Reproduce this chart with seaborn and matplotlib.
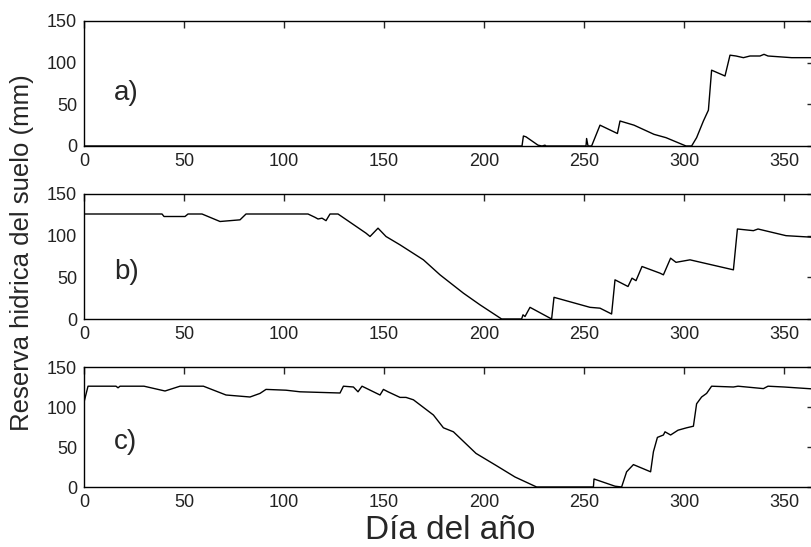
import pandas as pd
import matplotlib
matplotlib.use("Agg")
import matplotlib.pyplot as plt
import seaborn as sns

# -----------------------------
# DATA
# -----------------------------
day_a = [0, 219, 219.7, 221, 227, 229, 230.5, 231, 251, 251.3, 252, 253.8, 258, 266.7,
         268, 275, 285, 291, 301, 303.8, 306.3, 309.7, 312.2, 313.8, 320.5, 323, 326,
         329.7, 333, 338, 340, 342, 353.8, 365]
res_a = [0, 0, 12, 11, 1, 0, 1, 0, 0, 9, 0, 0, 25, 15,
         30, 25, 14, 10, 0, 0, 10, 30, 43, 91, 84, 109, 108,
         106, 108, 108, 110, 108, 106, 106]

day_b = [0, 39, 40, 50.5, 52, 59, 68, 78, 81, 112, 115.5, 117, 119, 121, 123, 127,
         141, 143, 147, 151, 158, 169.7, 178, 189.7, 198, 208.8, 218.8, 219.5, 220.5,
         223, 233.8, 235, 253, 258, 263.8, 265.5, 272, 274, 276, 279, 288, 289.7,
         293.3, 296, 303, 324.7, 326.7, 334.7, 337, 351, 365]
res_b = [126, 126, 123, 123, 126, 126, 117, 119, 126, 126, 122, 120, 121, 118, 126, 126,
         103, 99, 109, 99, 89, 71, 53, 31, 17, 0, 0, 5, 3,
         14, 0, 26, 14, 13, 6, 47, 39, 49, 46, 63, 55, 53,
         73, 68, 71, 59, 108, 106, 108, 100, 98]

day_c = [0, 2, 16, 17, 18, 30, 40.5, 48, 59.7, 71, 83, 88, 91, 101, 108, 128, 129.7,
         134.7, 137, 139, 148, 149.7, 152, 158, 161, 164.7, 174.7, 179.7, 184.7, 196,
         206, 215.5, 226.3, 254.7, 255, 265.5, 268.8, 271.3, 274.7, 283.3, 284.7, 286.7,
         289.7, 290.5, 293.3, 297, 301.3, 304.7, 306.3, 308.8, 311.3, 313.8, 324.7, 327,
         339.7, 342, 350, 365]
res_c = [106, 126, 126, 124, 126, 126, 120, 126, 126, 115, 112.5, 117, 122, 121, 119, 117.5, 126,
         125, 119, 126, 115, 122, 119, 112, 112, 109, 90, 74, 69, 42,
         27, 12.5, 0, 0, 10, 1, 0, 19, 28, 19, 44, 62,
         65, 69, 65, 71, 74, 76, 104, 112.5, 117, 126, 125, 126,
         123, 126, 125, 122.5]

panel_labels = ["a)", "b)", "c)"]
yticks = [0, 50, 100, 150]
xticks = [0, 50, 100, 150, 200, 250, 300, 350]

# -----------------------------
# STYLE
# -----------------------------
sns.set_style("white")
plt.rcParams["font.family"] = ["Liberation Sans", "DejaVu Sans"]

fig = plt.figure(figsize=(8.11, 5.47), dpi=100)

# axes boxes in figure fractions (left, bottom, width, height)
boxes = [
    (0.1036, 1 - 146 / 547, 0.9001, 125 / 547),
    (0.1036, 1 - 319 / 547, 0.9001, 125 / 547),
    (0.1036, 1 - 487 / 547, 0.9001, 120 / 547),
]
series = [(day_a, res_a), (day_b, res_b), (day_c, res_c)]
label_y = [63, 56, 56]

for box, (d, r), lab, ly in zip(boxes, series, panel_labels, label_y):
    ax = fig.add_axes(box)
    df = pd.DataFrame({"Dia": d, "Reserva": r})
    sns.lineplot(data=df, x="Dia", y="Reserva", ax=ax, color="black",
                 linewidth=1.0, estimator=None, sort=False)
    ax.set_xlim(0, 365)
    ax.set_ylim(0, 150)
    ax.set_xticks(xticks)
    ax.set_yticks(yticks)
    ax.set_xlabel("")
    ax.set_ylabel("")
    ax.tick_params(direction="in", top=True, right=True, length=5, width=1,
                   labelsize=13, labelcolor="#222222", pad=5)
    for s in ax.spines.values():
        s.set_linewidth(1.0)
        s.set_color("black")
    ax.text(15, ly, lab, fontsize=20, va="center", ha="left")

fig.text(0.0277, 0.539, "Reserva hidrica del suelo (mm)", rotation=90,
         ha="center", va="center", fontsize=18.5)
fig.text(0.555, 0.031, "Día del año", ha="center", va="center", fontsize=24)

plt.savefig("out.png", dpi=100)
plt.close()
